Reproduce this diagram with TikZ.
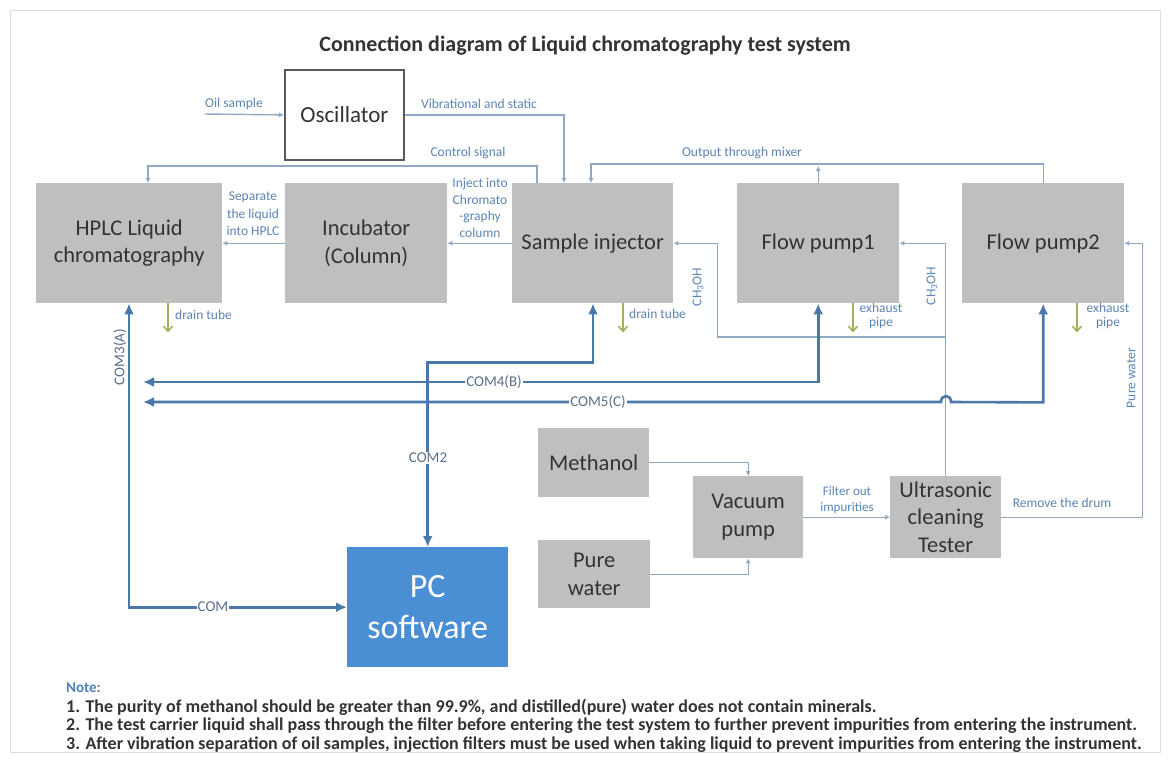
\documentclass[tikz,border=0pt]{standalone}
\usepackage{fontspec}
\setmainfont{Carlito}
\usetikzlibrary{arrows.meta,calc}
\definecolor{boxgray}{HTML}{BFBFBF}
\definecolor{txtc}{HTML}{333333}
\definecolor{lblc}{HTML}{5B85B5}
\definecolor{thinc}{HTML}{8FA8C4}
\definecolor{comc}{HTML}{4A78A8}
\definecolor{pcblue}{HTML}{4A8ED3}
\definecolor{drainc}{HTML}{9BB35A}
\definecolor{framec}{HTML}{DDDDDD}
\definecolor{comtxt}{HTML}{5A6F8A}
\definecolor{notec}{HTML}{4F81BD}
\begin{document}
\begin{tikzpicture}[x=1pt,y=-1pt,
  box/.style={fill=boxgray, anchor=north west, inner sep=0pt, align=center, text=txtc,
    font=\fontsize{22.5}{27.5}\selectfont},
  lab/.style={text=lblc, font=\fontsize{13.5}{16.5}\selectfont, inner sep=1pt, align=center},
  comlab/.style={text=comtxt, fill=white, font=\fontsize{15}{18}\selectfont, inner sep=1pt},
  thinl/.style={draw=thinc, line width=1.4pt},
  tarrow/.style={thinl, -{Latex[length=5pt,width=5pt]}},
  comline/.style={draw=comc, line width=2.6pt},
  comarrow/.style={comline, {Latex[length=11pt,width=10pt]}-{Latex[length=11pt,width=10pt]}},
  drainarr/.style={draw=drainc, line width=1.6pt, -{Straight Barb[length=5pt,width=9pt]}},
  notetxt/.style={anchor=west, inner sep=0pt, text=txtc, font=\fontsize{18}{19}\selectfont\bfseries}
]
\useasboundingbox (0,0) rectangle (1171,761);
\fill[white] (0,0) rectangle (1171,761);
\draw[framec, line width=1pt] (10,10) rectangle (1160,752);

% title
\node[font=\fontsize{22}{26}\selectfont\bfseries, text=txtc] (title) at (585,46)
  {Connection diagram of Liquid chromatography test system};

% boxes
\node[box, fill=white, draw=black!65, line width=1.8pt, minimum width=119pt, minimum height=90pt,
  font=\fontsize{23}{27}\selectfont] (osc) at (284,69) {Oscillator};
\node[box, minimum width=186pt, minimum height=120pt] (hplc) at (36,183) {HPLC Liquid\\chromatography};
\node[box, minimum width=162pt, minimum height=120pt] (inc) at (285,183) {Incubator\\(Column)};
\node[box, minimum width=161pt, minimum height=120pt] (si) at (512,183) {Sample injector};
\node[box, minimum width=162pt, minimum height=120pt] (fp1) at (737,183) {Flow pump1};
\node[box, minimum width=162pt, minimum height=120pt] (fp2) at (962,183) {Flow pump2};
\node[box, minimum width=111pt, minimum height=69pt] (meth) at (538,428) {Methanol};
\node[box, minimum width=112pt, minimum height=68pt] (pw) at (538,540) {Pure\\water};
\node[box, minimum width=110pt, minimum height=82pt] (vac) at (693,476) {Vacuum\\pump};
\node[box, minimum width=111pt, minimum height=82pt] (us) at (890,476) {Ultrasonic\\cleaning\\Tester};
\node[box, fill=pcblue, text=white, minimum width=161pt, minimum height=120pt,
  font=\fontsize{34}{41}\selectfont] (pc) at (347,547) {PC\\software};

% thin connectors
\coordinate (oilin) at (205,114);
\draw[tarrow] (oilin) -- (osc.west);
\node[lab] (loil) at (234,104) {Oil sample};
\draw[tarrow] (osc.east) -| ($(si.north west)+(52,0)$);
\node[lab] (lvib) at (479,104) {Vibrational and static};
\draw[tarrow] ($(si.north west)+(25,0)$) -- ++(0,-17) -| ($(hplc.north west)+(112,0)$);
\node[lab] (lctrl) at (468,153) {Control signal};
\draw[tarrow] (fp2.north) -- ++(0,-19) -| ($(si.north west)+(79,0)$);
\draw[tarrow] (fp1.north) -- ++(0,-17);
\node[lab] (lmix) at (742,153) {Output through mixer};

\draw[tarrow] (inc.west) -- (hplc.east);
\node[lab, font=\fontsize{13.5}{17.5}\selectfont] (lsep) at (253,214) {Separate\\the liquid\\into HPLC};
\draw[tarrow] (si.west) -- (inc.east);
\node[lab, font=\fontsize{13.5}{16.7}\selectfont] (linj) at (480,208) {Inject into\\Chromato\\-graphy\\column};

\draw[tarrow] (us.north) |- (fp1.east);
\draw[tarrow] ($(us.north)+(0,-139)$) -- ++(-228,0) |- (si.east);
\node[lab, rotate=90] (lch1) at (698,287) {CH\textsubscript{3}OH};
\node[lab, rotate=90] (lch2) at (932,286) {CH\textsubscript{3}OH};
\draw[tarrow] (us.east) -- ++(141,0) |- (fp2.east);
\node[lab] (ldrum) at (1062,503) {Remove the drum};
\node[lab, rotate=90] (lpw) at (1131,378) {Pure water};

\draw[tarrow] (meth.east) -| (vac.north);
\draw[tarrow] (pw.east) -| (vac.south);
\draw[tarrow] (vac.east) -- (us.west);
\node[lab, font=\fontsize{13}{16}\selectfont] (lfil) at (847,500) {Filter out\\impurities};

% drains
\draw[drainarr] ($(hplc.south west)+(132,0)$) -- ++(0,29);
\node[lab, anchor=west] (ld1) at (174,315) {drain tube};
\draw[drainarr] ($(si.south west)+(111,0)$) -- ++(0,29);
\node[lab, anchor=west] (ld2) at (628,314) {drain tube};
\draw[drainarr] ($(fp1.south west)+(116,0)$) -- ++(0,29);
\node[lab, font=\fontsize{13.5}{14}\selectfont] (le1) at (881,316) {exhaust\\pipe};
\draw[drainarr] ($(fp2.south west)+(115,0)$) -- ++(0,29);
\node[lab, font=\fontsize{13.5}{14}\selectfont] (le2) at (1108,316) {exhaust\\pipe};

% COM lines
\draw[comarrow] ($(hplc.south west)+(93,0)$) |- (pc.west);
\node[comlab] (lcom) at (213,607) {COM};
\node[comlab, fill=none, rotate=90] (lcom3) at (120,357) {COM3(A)};
\draw[comarrow] ($(si.south west)+(81,0)$) -- ++(0,59) -| (pc.north);
\node[comlab] (lcom2) at (428,458) {COM2};
\coordinate (c4end) at (143,382);
\draw[comarrow] (fp1.south) |- (c4end);
\node[comlab] (lcom4) at (494,382) {COM4(B)};
\coordinate (c5end) at (143,402);
\draw[comarrow] (fp2.south) -- ++(0,99) -- (951,402) .. controls (951,394) and (941,394) .. (941,402) -- (c5end);
\node[comlab] (lcom5) at (598,402) {COM5(C)};

% notes
\node[notetxt, text=notec, font=\fontsize{15}{18}\selectfont\bfseries] (n0) at (66,688) {Note:};
\node[notetxt] (n1) at (66,707) {1. The purity of methanol should be greater than 99.9\%, and distilled(pure) water does not contain minerals.};
\node[notetxt] (n2) at (66,726) {2. The test carrier liquid shall pass through the filter before entering the test system to further prevent impurities from entering the instrument.};
\node[notetxt] (n3) at (66,745) {3. After vibration separation of oil samples, injection filters must be used when taking liquid to prevent impurities from entering the instrument.};
\end{tikzpicture}
\end{document}
